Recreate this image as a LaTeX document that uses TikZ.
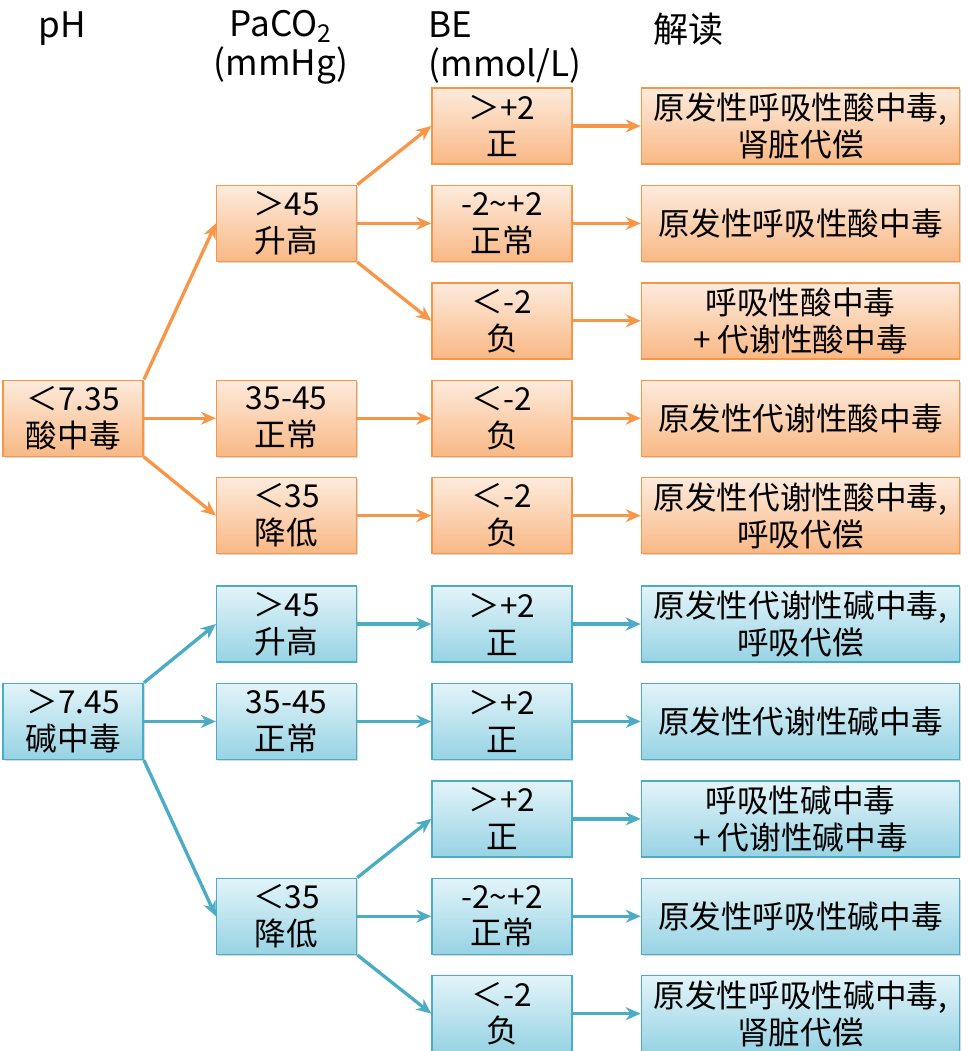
\documentclass[tikz,border=0pt]{standalone}
\usepackage{fontspec}
\setmainfont{Noto Sans CJK SC}
\usepackage{xcolor}
\usepackage{tikz}
\usetikzlibrary{arrows.meta, positioning, shadows}

\definecolor{orgline}{HTML}{F79646}
\definecolor{orgtop}{HTML}{FDEBDD}
\definecolor{orgbot}{HTML}{F9B885}
\definecolor{bluline}{HTML}{4BACC6}
\definecolor{blutop}{HTML}{E3F4F9}
\definecolor{blubot}{HTML}{97D3E4}

\begin{document}
\begin{tikzpicture}[
    node distance=0.4cm and 1.4cm,
    every node/.style={font=\fontsize{18}{21}\selectfont},
    head/.style={font=\fontsize{20}{22}\selectfont},
    cell/.style={rectangle, draw=#1line, line width=0.8pt, top color=#1top, bottom color=#1bot, minimum width=2.8cm, minimum height=1.52cm, align=center, inner sep=1pt, drop shadow={opacity=0.3, shadow xshift=0.8pt, shadow yshift=-0.8pt}},
    wide/.style={cell=#1, minimum width=6.36cm},
    arrow/.style={-{Stealth[length=3mm, width=2.6mm]}, line width=1.9pt, draw=#1line}
]
\useasboundingbox (0,0) rectangle (19.36,-21.02);

% Headers
\node[head, anchor=west] (hph) at (0.65,-0.58) {pH};
\node[head, align=center] (hpc) at (5.62,-0.95) {PaCO\textsubscript{2}\\(mmHg)};
\node[head, align=left, anchor=west] (hbe) at (8.45,-0.95) {BE\\(mmol/L)};
\node[head, anchor=west] (hjd) at (12.95,-0.58) {解读};

% BE column
\node[cell=org] (be1) at (10.04,-2.52) {＞+2\\正};
\node[cell=org, below=of be1] (be2) {-2\textasciitilde+2\\正常};
\node[cell=org, below=of be2] (be3) {＜-2\\负};
\node[cell=org, below=of be3] (be4) {＜-2\\负};
\node[cell=org, below=of be4] (be5) {＜-2\\负};
\node[cell=blu, below=0.62cm of be5] (be6) {＞+2\\正};
\node[cell=blu, below=of be6] (be7) {＞+2\\正};
\node[cell=blu, below=of be7] (be8) {＞+2\\正};
\node[cell=blu, below=of be8] (be9) {-2\textasciitilde+2\\正常};
\node[cell=blu, below=of be9] (be10) {＜-2\\负};

% Interpretation
\node[wide=org, right=1.36cm of be1] (res1) {原发性呼吸性酸中毒,\\肾脏代偿};
\node[wide=org, right=1.36cm of be2] (res2) {原发性呼吸性酸中毒};
\node[wide=org, right=1.36cm of be3] (res3) {呼吸性酸中毒\\+ 代谢性酸中毒};
\node[wide=org, right=1.36cm of be4] (res4) {原发性代谢性酸中毒};
\node[wide=org, right=1.36cm of be5] (res5) {原发性代谢性酸中毒,\\呼吸代偿};
\node[wide=blu, right=1.36cm of be6] (res6) {原发性代谢性碱中毒,\\呼吸代偿};
\node[wide=blu, right=1.36cm of be7] (res7) {原发性代谢性碱中毒};
\node[wide=blu, right=1.36cm of be8] (res8) {呼吸性碱中毒\\+ 代谢性碱中毒};
\node[wide=blu, right=1.36cm of be9] (res9) {原发性呼吸性碱中毒};
\node[wide=blu, right=1.36cm of be10] (res10) {原发性呼吸性碱中毒,\\肾脏代偿};

% PaCO2 column
\node[cell=org, left=1.48cm of be2] (pc1) {＞45\\升高};
\node[cell=org, left=1.48cm of be4] (pc2) {35-45\\正常};
\node[cell=org, left=1.48cm of be5] (pc3) {＜35\\降低};
\node[cell=blu, left=1.48cm of be6] (pc4) {＞45\\升高};
\node[cell=blu, left=1.48cm of be7] (pc5) {35-45\\正常};
\node[cell=blu, left=1.48cm of be9] (pc6) {＜35\\降低};

% pH column
\node[cell=org, left=1.44cm of pc2] (ph1) {＜7.35\\酸中毒};
\node[cell=blu, left=1.44cm of pc5] (ph2) {＞7.45\\碱中毒};

% Arrows
\draw[arrow=org] (ph1.north east) -- (pc1.west);
\draw[arrow=org] (ph1) -- (pc2);
\draw[arrow=org] (ph1.south east) -- (pc3.west);
\draw[arrow=org] (pc1.north east) -- (be1.west);
\draw[arrow=org] (pc1) -- (be2);
\draw[arrow=org] (pc1.south east) -- (be3.west);
\draw[arrow=org] (pc2) -- (be4);
\draw[arrow=org] (pc3) -- (be5);
\draw[arrow=blu] (ph2.north east) -- (pc4.west);
\draw[arrow=blu] (ph2) -- (pc5);
\draw[arrow=blu] (ph2.south east) -- (pc6.west);
\draw[arrow=blu] (pc4) -- (be6);
\draw[arrow=blu] (pc5) -- (be7);
\draw[arrow=blu] (pc6.north east) -- (be8.west);
\draw[arrow=blu] (pc6) -- (be9);
\draw[arrow=blu] (pc6.south east) -- (be10.west);
\foreach \i in {1,...,5} \draw[arrow=org] (be\i) -- (res\i);
\foreach \i in {6,...,10} \draw[arrow=blu] (be\i) -- (res\i);

\end{tikzpicture}
\end{document}
